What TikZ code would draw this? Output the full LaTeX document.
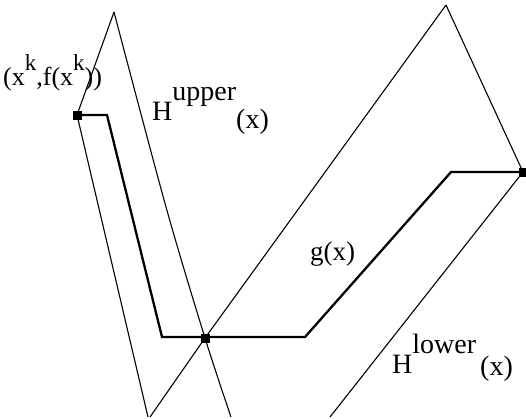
\documentclass[tikz,border=0pt]{standalone}
\usepackage{fontspec}
\setmainfont{Liberation Serif}
\begin{document}
\begin{tikzpicture}[x=1pt,y=-1pt,
  thinline/.style={line width=1.1pt},
  gline/.style={line width=2.3pt, line join=miter},
  mk/.style={fill=black, draw=none, rectangle, minimum size=9pt, inner sep=0pt},
  lbl/.style={inner sep=0pt, anchor=base west, font=\fontsize{28}{32}\selectfont}]
\useasboundingbox (0,0) rectangle (526,418);
% points
\coordinate (LA) at (114,12);
\coordinate (LMid) at (166,207);
\coordinate (LB) at (148,417);
\coordinate (LC) at (231,417);
\coordinate (RA) at (446,5);
\coordinate (RB) at (150,417);
\coordinate (RC) at (330,417);
\coordinate (G1) at (107,115);
\coordinate (G2) at (162,337);
\coordinate (G3) at (305,337);
\coordinate (G4) at (451,172);
\node[mk] (K) at (77,115) {};
\node[mk] (M) at (205,338) {};
\node[mk] (R) at (523,172) {};
% H upper (left wedge)
\draw[thinline] (LA) -- (K.center) -- (LB);
\draw[thinline] plot[smooth, tension=0.5] coordinates {(LA) (LMid) (M.center) (LC)};
% H lower (right wedge)
\draw[thinline] (RA) -- (M.center) -- (RB);
\draw[thinline] (RA) -- (R.center) -- (RC);
% g(x)
\draw[gline] (K.center) -- (G1) -- (G2) -- (G3) -- (G4) -- (R.center);
% labels
\node[lbl, font=\fontsize{26}{30}\selectfont] (kl) at (3,85) {(x\raisebox{15pt}{\fontsize{23}{26}\selectfont k},f(x\raisebox{15pt}{\fontsize{23}{26}\selectfont k}))};
\node[lbl] (hu) at (152,120) {H\raisebox{20pt}{upper}\raisebox{-8pt}{(x)}};
\node[lbl, font=\fontsize{27}{30}\selectfont] (gx) at (310,260) {g(x)};
\node[lbl] (hl) at (392,373) {H\raisebox{20pt}{lower}\hspace{4pt}\raisebox{-2pt}{(x)}};
\end{tikzpicture}
\end{document}
